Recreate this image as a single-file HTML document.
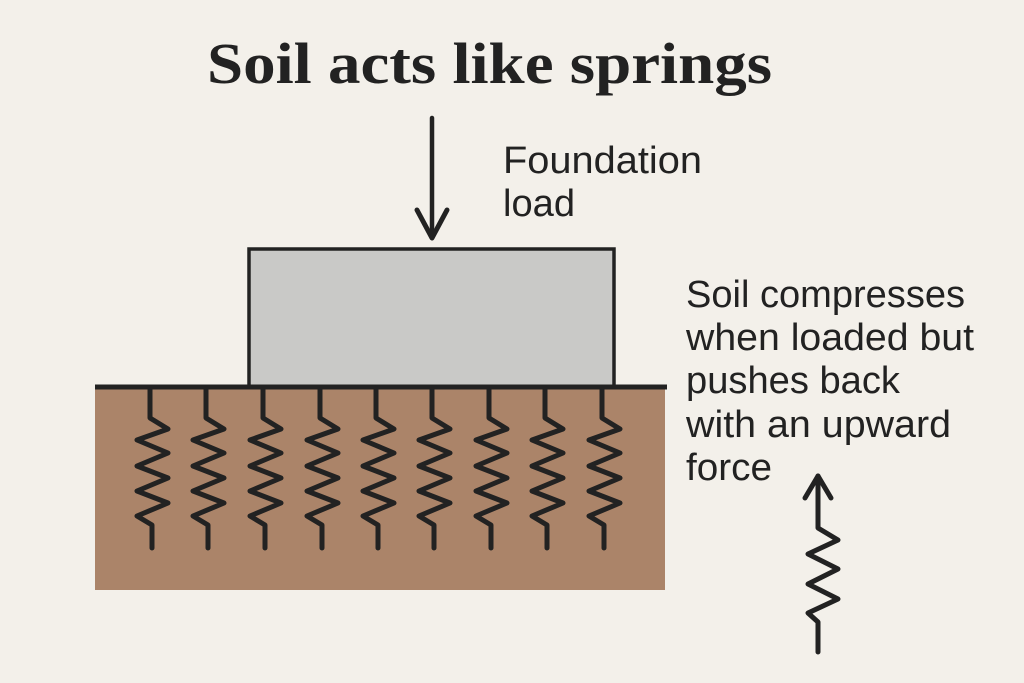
<!DOCTYPE html>
<html><head><meta charset="utf-8"><style>
html,body{margin:0;padding:0;background:#f3f0ea;}
svg{display:block;}
</style></head><body>
<svg width="1024" height="683" viewBox="0 0 1024 683" xmlns="http://www.w3.org/2000/svg">
<rect width="1024" height="683" fill="#f3f0ea"/>
<text x="207" y="83" font-family="Liberation Serif, serif" font-weight="bold" font-size="58" fill="#222" textLength="565" lengthAdjust="spacingAndGlyphs">Soil acts like springs</text>
<line x1="432" y1="118" x2="432" y2="236" stroke="#222" stroke-width="4.5" stroke-linecap="round"/>
<polyline points="417,210 432,238 447,210" fill="none" stroke="#222" stroke-width="5" stroke-linecap="round" stroke-linejoin="round"/>
<g font-family="Liberation Sans, sans-serif" font-size="38" fill="#222">
<text x="503" y="173" textLength="199" lengthAdjust="spacingAndGlyphs">Foundation</text>
<text x="503" y="216" textLength="72" lengthAdjust="spacingAndGlyphs">load</text>
<text x="686" y="307" textLength="279" lengthAdjust="spacingAndGlyphs">Soil compresses</text>
<text x="686" y="350" textLength="288" lengthAdjust="spacingAndGlyphs">when loaded but</text>
<text x="686" y="393" textLength="214" lengthAdjust="spacingAndGlyphs">pushes back</text>
<text x="686" y="437" textLength="265" lengthAdjust="spacingAndGlyphs">with an upward</text>
<text x="686" y="480" textLength="86" lengthAdjust="spacingAndGlyphs">force</text>
</g>
<rect x="95" y="388" width="570" height="202" fill="#ab8469"/>
<rect x="249" y="249" width="365" height="138" fill="#c9c9c7" stroke="#222" stroke-width="3.5"/>
<line x1="95" y1="387" x2="667" y2="387" stroke="#222" stroke-width="5"/>
<defs>
<polyline id="sp" points="0,388 0,418 18,429 -13,440 18,453 -13,466 18,478 -13,491 18,503 -13,516 2,525 2,548" fill="none" stroke="#222" stroke-width="5" stroke-linecap="round" stroke-linejoin="round"/>
</defs>
<use href="#sp" x="150"/>
<use href="#sp" x="206"/>
<use href="#sp" x="263"/>
<use href="#sp" x="320"/>
<use href="#sp" x="376"/>
<use href="#sp" x="432"/>
<use href="#sp" x="489"/>
<use href="#sp" x="545"/>
<use href="#sp" x="602"/>
<polyline points="818,476 818,528 838,540 808,554 838,569 808,584 838,599 808,613 818,622 818,652" fill="none" stroke="#222" stroke-width="5" stroke-linecap="round" stroke-linejoin="round"/>
<polyline points="805,498 818,476 831,498" fill="none" stroke="#222" stroke-width="5" stroke-linecap="round" stroke-linejoin="round"/>
</svg>
</body></html>
